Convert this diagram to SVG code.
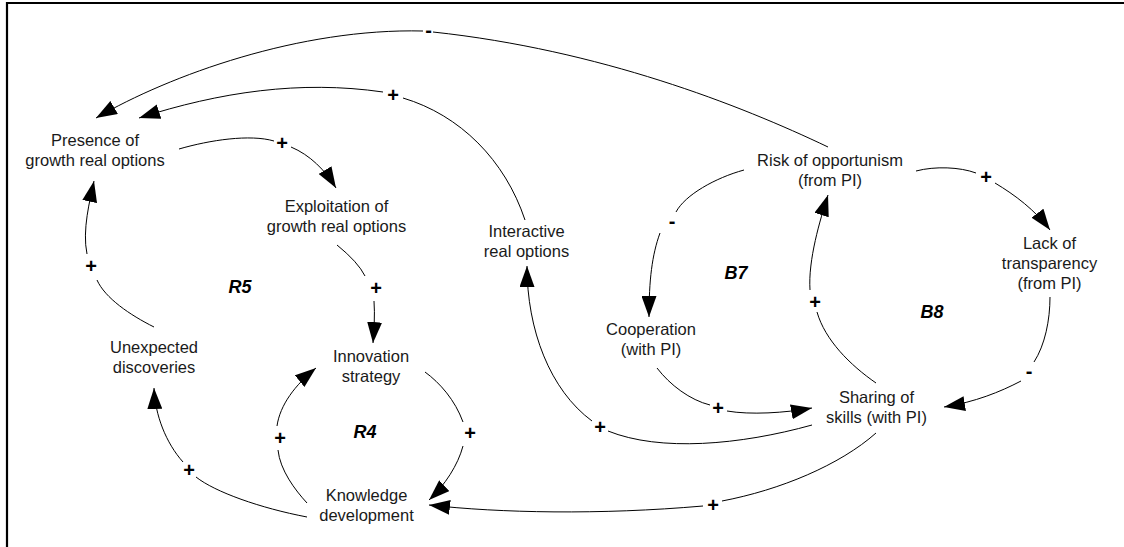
<svg xmlns="http://www.w3.org/2000/svg" width="1124" height="547" viewBox="0 0 1124 547">
<style>
.n{font-family:"Liberation Sans",Arial,sans-serif;font-size:16.5px;fill:#1a1a1a;text-anchor:middle}
.l{font-family:"Liberation Sans",Arial,sans-serif;font-size:20px;font-weight:bold;fill:#000;text-anchor:middle}
.loop{font-family:"Liberation Sans",Arial,sans-serif;font-size:18px;font-weight:bold;font-style:italic;fill:#000;text-anchor:middle}
.c{fill:none;stroke:#000;stroke-width:1}
.a{marker-end:url(#arr)}
</style>
<defs>
<marker id="arr" markerUnits="userSpaceOnUse" viewBox="0 0 21 15" refX="21" refY="7.5" markerWidth="21" markerHeight="15" orient="auto">
<path d="M0,0 L21,7.5 L0,15 Z" fill="#000"/>
</marker>
</defs>
<rect width="1124" height="547" fill="#fff"/>
<path d="M7,547 V3 H1124" fill="none" stroke="#000" stroke-width="2.2"/>

<g id="connectors">
<g id="c-risk-presence"><path class="c" d="M828,147 C740,105 600,50 433,32"/><path class="c a" d="M423,31 C300,28 170,75 96,118"/><text class="l" x="428.5" y="37">-</text></g>
<g id="c-interactive-presence"><path class="c" d="M525,220 C505,160 460,115 403,98"/><path class="c a" d="M383,92 C300,80 220,92 139,118"/><text class="l" x="393" y="102">+</text></g>
<g id="c-presence-exploitation"><path class="c" d="M179,149 C210,140 250,134 274,141"/><path class="c a" d="M291,147 C310,155 325,170 336,188"/><text class="l" x="282" y="150">+</text></g>
<g id="c-exploitation-innovation"><path class="c" d="M337,245 Q358,262 365,276"/><path class="c a" d="M374,301 C375,315 374,330 373,343"/><text class="l" x="376" y="295">+</text></g>
<g id="c-unexpected-presence"><path class="c" d="M154,327 C130,315 105,298 97,280"/><path class="c a" d="M87,254 C82,230 90,200 94,181"/><text class="l" x="91" y="273">+</text></g>
<g id="c-knowledge-unexpected"><path class="c" d="M307,517 C260,508 215,492 196,477"/><path class="c a" d="M183,462 C166,443 155,415 154,388"/><text class="l" x="189" y="477">+</text></g>
<g id="c-knowledge-innovation"><path class="c" d="M307,503 C295,490 280,470 278,450"/><path class="c a" d="M277,426 C280,405 295,385 316,368"/><text class="l" x="280" y="445">+</text></g>
<g id="c-innovation-knowledge"><path class="c" d="M425,372 C440,383 455,400 463,422"/><path class="c a" d="M463,446 C458,465 445,485 429,500"/><text class="l" x="470" y="440">+</text></g>
<g id="c-sharing-knowledge"><path class="c" d="M876,433 C840,465 780,490 722,501"/><path class="c a" d="M703,506 C600,515 500,513 429,505"/><text class="l" x="713" y="512">+</text></g>
<g id="c-sharing-interactive"><path class="c" d="M812,425 C740,445 660,452 608,431"/><path class="c a" d="M592,421 C550,390 527,330 527,266"/><text class="l" x="600" y="434">+</text></g>
<g id="c-cooperation-sharing"><path class="c" d="M657,368 C670,385 690,400 710,405"/><path class="c a" d="M727,411 C750,415 785,413 812,408"/><text class="l" x="718" y="415">+</text></g>
<g id="c-risk-cooperation"><path class="c" d="M744,170 C715,178 685,195 676,212"/><path class="c a" d="M660,233 C652,255 649,280 649,317"/><text class="l" x="672" y="228">-</text></g>
<g id="c-sharing-risk"><path class="c" d="M876,383 C850,365 825,340 817,312"/><path class="c a" d="M810,290 C808,260 820,220 828,195"/><text class="l" x="815" y="309">+</text></g>
<g id="c-risk-lack"><path class="c" d="M916,171 C935,166 960,167 976,173"/><path class="c a" d="M995,183 C1015,195 1035,210 1050,230"/><text class="l" x="986" y="184">+</text></g>
<g id="c-lack-sharing"><path class="c" d="M1050,297 C1050,320 1045,345 1034,362"/><path class="c a" d="M1021,381 C1000,392 975,402 944,407"/><text class="l" x="1029" y="378">-</text></g>
</g>

<g id="node-presence"><text class="n" x="95" y="146">Presence of</text><text class="n" x="95" y="166">growth real options</text></g>
<g id="node-exploitation"><text class="n" x="336.5" y="212">Exploitation of</text><text class="n" x="336.5" y="232">growth real options</text></g>
<g id="node-interactive"><text class="n" x="526.5" y="237">Interactive</text><text class="n" x="526.5" y="257">real options</text></g>
<g id="node-risk"><text class="n" x="830" y="166">Risk of opportunism</text><text class="n" x="830" y="186">(from PI)</text></g>
<g id="node-lack"><text class="n" x="1049.5" y="249">Lack of</text><text class="n" x="1049.5" y="269">transparency</text><text class="n" x="1049.5" y="289">(from PI)</text></g>
<g id="node-cooperation"><text class="n" x="651" y="335">Cooperation</text><text class="n" x="651" y="355">(with PI)</text></g>
<g id="node-sharing"><text class="n" x="876.5" y="403">Sharing of</text><text class="n" x="876.5" y="423">skills (with PI)</text></g>
<g id="node-unexpected"><text class="n" x="154" y="353">Unexpected</text><text class="n" x="154" y="373">discoveries</text></g>
<g id="node-innovation"><text class="n" x="371" y="362">Innovation</text><text class="n" x="371" y="382">strategy</text></g>
<g id="node-knowledge"><text class="n" x="366.5" y="501">Knowledge</text><text class="n" x="366.5" y="521">development</text></g>

<g id="loops">
<text class="loop" x="240" y="293">R5</text>
<text class="loop" x="365" y="438">R4</text>
<text class="loop" x="736" y="279">B7</text>
<text class="loop" x="932" y="318">B8</text>
</g>
</svg>
